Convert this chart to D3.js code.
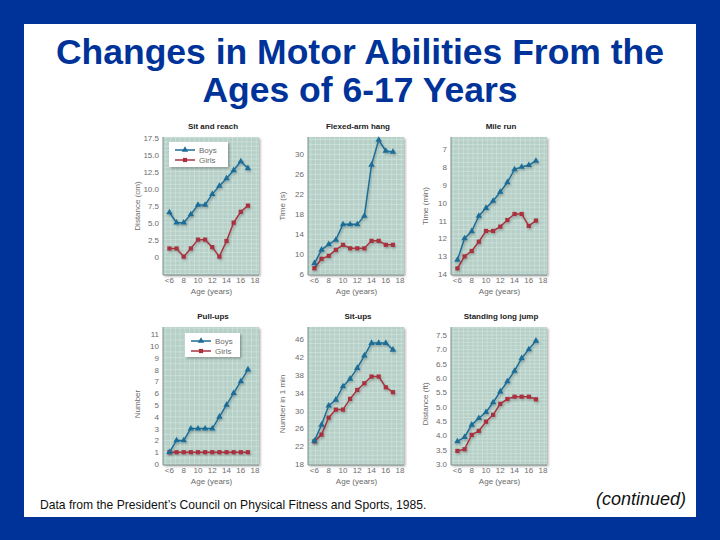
<!DOCTYPE html>
<html><head><meta charset="utf-8">
<script src="https://cdn.jsdelivr.net/npm/d3@7"></script>
<style>body{margin:0;background:#003399;}svg{display:block;}</style>
</head><body>
<svg id="chart" width="720" height="540"></svg>
<script>
// ---------- data ----------
const ages = [6,7,8,9,10,11,12,13,14,15,16,17];
const xTickValues = [6,8,10,12,14,16,18];
const xTickLabels = ["<6","8","10","12","14","16","18"];

const panelTitles = ["Sit and reach","Flexed-arm hang","Mile run","Pull-ups","Sit-ups","Standing long jump"];
const yAxisTitles = ["Distance (cm)","Time (s)","Time (min)","Number","Number in 1 min","Distance (ft)"];

const sitReachBoys  = [6.5,5.0,5.0,6.2,7.6,7.6,9.2,10.4,11.5,12.7,14.0,13.0];
const sitReachGirls = [1.2,1.2,0.0,1.2,2.5,2.5,1.4,0.0,2.3,5.0,6.6,7.5];
const hangBoys  = [8.2,10.9,12.0,12.9,16.0,16.0,16.0,17.7,27.9,32.9,30.7,30.5];
const hangGirls = [7.2,9.1,9.7,10.9,11.9,11.2,11.2,11.2,12.7,12.7,11.9,11.9];
const mileBoys  = [13.2,12.0,11.6,10.74,10.3,9.9,9.4,8.86,8.14,8.0,7.9,7.67];
const mileGirls = [13.67,13.0,12.7,12.18,11.58,11.58,11.34,10.97,10.63,10.63,11.3,11.0];
const pullBoys  = [1,2,2,3,3,3,3,4,5,6,7,8];
const pullGirls = [1,1,1,1,1,1,1,1,1,1,1,1];
const situpBoys  = [23.2,26.8,31.1,32.4,35.4,37.1,39.5,42.3,45.1,45.1,45.1,43.6];
const situpGirls = [23.1,24.6,28.4,30.2,30.2,32.6,34.6,36.1,37.6,37.6,35.2,34.1];
const jumpBoys  = [3.79,3.94,4.37,4.6,4.81,5.15,5.53,5.88,6.25,6.69,7.0,7.3];
const jumpGirls = [3.46,3.52,4.02,4.16,4.48,4.72,5.1,5.27,5.35,5.35,5.35,5.26];

const yTicks1 = [0,2.5,5,7.5,10,12.5,15,17.5];
const yTicks2 = [6,10,14,18,22,26,30];
const yTicks3 = [7,8,9,10,11,12,13,14];
const yTicks4 = [0,1,2,3,4,5,6,7,8,9,10,11];
const yTicks5 = [18,22,26,30,34,38,42,46];
const yTicks6 = [3.0,3.5,4.0,4.5,5.0,5.5,6.0,6.5,7.0,7.5];

const legendLabels = ["Boys","Girls"];
const titleLines = ["Changes in Motor Abilities From the","Ages of 6-17 Years"];
const sourceText = "Data from the President\u2019s Council on Physical Fitness and Sports, 1985.";
const continuedText = "(continued)";

// ---------- layout ----------
const boysColor = "#1d6d97", girlsColor = "#a8323f";
const panels = [
  {boys:sitReachBoys, girls:sitReachGirls, ticks:yTicks1, fmt:d=>d===0?"0":d3.format(".1f")(d), dom:[-2.7,17.6], minor:0.625, left:163, top:137, legend:{x:169,y:142,w:59,h:25}},
  {boys:hangBoys, girls:hangGirls, ticks:yTicks2, fmt:d3.format("d"), dom:[5.86,33.5], minor:1, left:308, top:137},
  {boys:mileBoys, girls:mileGirls, ticks:yTicks3, fmt:d3.format("d"), dom:[6.33,14.04], minor:0.25, left:451, top:137, reverse:true},
  {boys:pullBoys, girls:pullGirls, ticks:yTicks4, fmt:d3.format("d"), dom:[-0.08,11.6], minor:0.5, left:163, top:327, legend:{x:185,y:333,w:55,h:24}},
  {boys:situpBoys, girls:situpGirls, ticks:yTicks5, fmt:d3.format("d"), dom:[17.8,48.7], minor:1, left:308, top:327},
  {boys:jumpBoys, girls:jumpGirls, ticks:yTicks6, fmt:d3.format(".1f"), dom:[2.97,7.78], minor:0.125, left:451, top:327}
];
const PW = 96, PH = 138;

const svg = d3.select("#chart");
const defs = svg.append("defs");
const sh = defs.append("filter").attr("id","shadow").attr("x","-20%").attr("y","-20%").attr("width","150%").attr("height","150%");
sh.append("feDropShadow").attr("dx",1.5).attr("dy",1.5).attr("stdDeviation",1).attr("flood-color","#000").attr("flood-opacity",0.3);
const lsh = defs.append("filter").attr("id","lshadow").attr("x","-20%").attr("y","-20%").attr("width","150%").attr("height","150%");
lsh.append("feDropShadow").attr("dx",1).attr("dy",1.5).attr("stdDeviation",0.8).attr("flood-color","#000").attr("flood-opacity",0.25);

svg.append("rect").attr("width",720).attr("height",540).attr("fill","#003399");
svg.append("rect").attr("x",24).attr("y",24).attr("width",672).attr("height",493).attr("fill","#ffffff");

svg.selectAll("text.title").data(titleLines).join("text")
  .attr("x",360).attr("y",(d,i)=>64+i*38).attr("text-anchor","middle")
  .attr("font-family","'Liberation Sans',Arial,sans-serif").attr("font-weight","bold")
  .attr("font-size",35.5).attr("fill","#003399").text(d=>d);

svg.append("text").attr("x",40).attr("y",509).attr("font-family","'Liberation Sans',Arial,sans-serif")
  .attr("font-size",12.1).attr("fill","#111").text(sourceText);
svg.append("text").attr("x",686).attr("y",505).attr("text-anchor","end").attr("font-family","'Liberation Sans',Arial,sans-serif")
  .attr("font-style","italic").attr("font-size",18).attr("fill","#111").text(continuedText);

const font = "'Liberation Sans',Arial,sans-serif";
const triangle = d3.symbol().type(d3.symbolTriangle).size(18);
const square = d3.symbol().type(d3.symbolSquare).size(18);

panels.forEach((p,idx)=>{
  const x = d3.scaleLinear().domain([5.1,18.55]).range([p.left, p.left+PW]);
  const y = d3.scaleLinear().domain(p.dom).range(p.reverse ? [p.top, p.top+PH] : [p.top+PH, p.top]);
  const g = svg.append("g");
  g.append("rect").attr("x",p.left).attr("y",p.top).attr("width",PW).attr("height",PH)
    .attr("fill","#b6d0c8").attr("filter","url(#shadow)");
  // minor grid
  const xs = d3.range(5.5, 18.5, 2/3);
  g.selectAll("line.vg").data(xs).join("line")
    .attr("x1",d=>x(d)).attr("x2",d=>x(d)).attr("y1",p.top).attr("y2",p.top+PH)
    .attr("stroke","#d3e5df").attr("stroke-width",0.6);
  const ys = d3.range(Math.ceil(p.dom[0]/p.minor)*p.minor, p.dom[1], p.minor);
  g.selectAll("line.hg").data(ys).join("line")
    .attr("x1",p.left).attr("x2",p.left+PW).attr("y1",d=>y(d)).attr("y2",d=>y(d))
    .attr("stroke","#d3e5df").attr("stroke-width",0.6);
  // axis lines
  g.append("line").attr("x1",p.left).attr("x2",p.left).attr("y1",p.top).attr("y2",p.top+PH).attr("stroke","#7f918c").attr("stroke-width",1);
  g.append("line").attr("x1",p.left).attr("x2",p.left+PW).attr("y1",p.top+PH).attr("y2",p.top+PH).attr("stroke","#7f918c").attr("stroke-width",1);
  // tick labels
  g.selectAll("text.yt").data(p.ticks).join("text")
    .attr("x",p.left-4).attr("y",d=>y(d)+3).attr("text-anchor","end")
    .attr("font-family",font).attr("font-size",8).attr("fill","#6b6b6b").text(p.fmt);
  g.selectAll("text.xt").data(xTickValues).join("text")
    .attr("x",d=>x(d)).attr("y",p.top+PH+8).attr("text-anchor","middle")
    .attr("font-family",font).attr("font-size",8).attr("fill","#6b6b6b").text((d,i)=>xTickLabels[i]);
  g.append("text").attr("x",x(11.9)).attr("y",p.top+PH+19).attr("text-anchor","middle")
    .attr("font-family",font).attr("font-size",8).attr("fill","#6b6b6b").text("Age (years)");
  g.append("text").attr("x",p.left+50).attr("y",p.top-8).attr("text-anchor","middle")
    .attr("font-family",font).attr("font-weight","bold").attr("font-size",8).attr("fill","#222").text(panelTitles[idx]);
  const yc = p.top + PH/2 + (idx>=3 ? 8 : 0);
  g.append("text").attr("transform",`translate(${p.left-23},${yc}) rotate(-90)`).attr("text-anchor","middle")
    .attr("font-family",font).attr("font-size",8).attr("fill","#6b6b6b").text(yAxisTitles[idx]);

  const line = d3.line().x((d,i)=>x(ages[i])).y(d=>y(d));
  [[p.girls, girlsColor, square],[p.boys, boysColor, triangle]].forEach(([vals,col,sym])=>{
    const sg = g.append("g").attr("filter","url(#lshadow)");
    sg.append("path").datum(vals).attr("d",line).attr("fill","none").attr("stroke",col).attr("stroke-width",1.5);
    sg.selectAll("path.m").data(vals).join("path").attr("class","m")
      .attr("transform",(d,i)=>`translate(${x(ages[i])},${y(d)})`).attr("d",sym).attr("fill",col);
  });

  if (p.legend){
    const L = p.legend;
    g.append("rect").attr("x",L.x).attr("y",L.y).attr("width",L.w).attr("height",L.h).attr("fill","#fff").attr("filter","url(#shadow)");
    [[boysColor,triangle],[girlsColor,square]].forEach(([col,sym],i)=>{
      const ly = L.y + 8 + i*10;
      g.append("line").attr("x1",L.x+6).attr("x2",L.x+26).attr("y1",ly).attr("y2",ly).attr("stroke",col).attr("stroke-width",1.5);
      g.append("path").attr("transform",`translate(${L.x+16},${ly})`).attr("d",sym).attr("fill",col);
      g.append("text").attr("x",L.x+30).attr("y",ly+3).attr("font-family",font).attr("font-size",8).attr("fill","#6b6b6b").text(legendLabels[i]);
    });
  }
});
</script>
</body></html>
